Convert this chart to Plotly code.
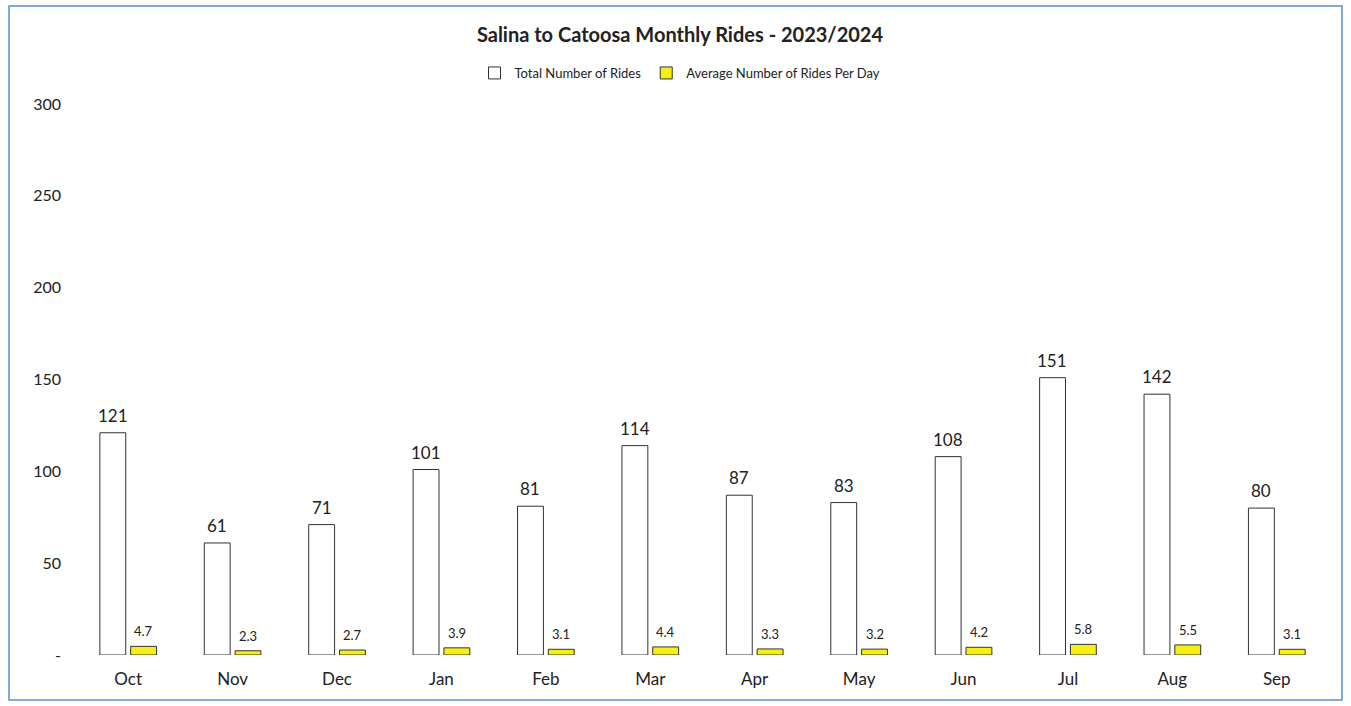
import plotly.graph_objects as go

months = ["Oct", "Nov", "Dec", "Jan", "Feb", "Mar", "Apr", "May", "Jun", "Jul", "Aug", "Sep"]
total_rides = [121, 61, 71, 101, 81, 114, 87, 83, 108, 151, 142, 80]
avg_rides_per_day = [4.7, 2.3, 2.7, 3.9, 3.1, 4.4, 3.3, 3.2, 4.2, 5.8, 5.5, 3.1]
y_ticks = [0, 50, 100, 150, 200, 250, 300]
y_tick_text = ["-", "50", "100", "150", "200", "250", "300"]

W, H = 1351, 706
L, R, T, B = 76, 22, 104, 51
FONT = "Lato, Open Sans, sans-serif"
BAR_OFFSET = 15.5  # px from category centre to each bar's centre

fig = go.Figure()
fig.add_trace(go.Bar(
    name="Total Number of Rides",
    x=months, y=total_rides,
    marker=dict(color="white", line=dict(color="#333333", width=1)),
))
fig.add_trace(go.Bar(
    name="Average Number of Rides Per Day",
    x=months, y=avg_rides_per_day,
    marker=dict(color="#f5ef16", line=dict(color="#333333", width=1)),
))

# value labels above each bar
annotations = []
for m, v in zip(months, total_rides):
    annotations.append(dict(
        x=m, y=v, xref="x", yref="y", text=str(v), showarrow=False,
        xshift=-BAR_OFFSET, yshift=5, yanchor="bottom",
        font=dict(size=17, color="#222222", family=FONT),
    ))
for m, v in zip(months, avg_rides_per_day):
    annotations.append(dict(
        x=m, y=v, xref="x", yref="y", text=f"{v:.1f}", showarrow=False,
        xshift=BAR_OFFSET, yshift=5, yanchor="bottom",
        font=dict(size=13, color="#222222", family=FONT),
    ))

pw = W - L - R
ph = H - T - B

def px_x(x):
    return (x - L) / pw

def px_y(y):
    return (H - B - y) / ph

fig.update_layout(
    width=W, height=H,
    margin=dict(l=L, r=R, t=T, b=B),
    paper_bgcolor="white", plot_bgcolor="white",
    font=dict(family=FONT, color="#222222"),
    barmode="group", bargap=0.41, bargroupgap=0.16,
    title=dict(
        text="<b>Salina to Catoosa Monthly Rides - 2023/2024</b>",
        x=px_x(680), xref="paper", xanchor="center",
        y=1 - 35 / H, yanchor="middle",
        font=dict(size=20, color="#222222", family=FONT),
    ),
    legend=dict(
        orientation="h", x=px_x(680), xanchor="center",
        y=px_y(73), yanchor="middle",
        font=dict(size=13, color="#222222", family=FONT),
        itemwidth=30, bgcolor="rgba(0,0,0,0)",
    ),
    showlegend=True,
    annotations=annotations,
    xaxis=dict(
        showgrid=False, showline=False, zeroline=False, ticks="",
        tickfont=dict(size=17, color="#222222"),
        ticklabelstandoff=12,
    ),
    yaxis=dict(
        range=[0, 300], tickvals=y_ticks, ticktext=y_tick_text,
        showgrid=False, showline=False, zeroline=False, ticks="",
        tickfont=dict(size=16, color="#222222"),
        ticklabelstandoff=14,
    ),
    shapes=[dict(
        type="rect", xref="paper", yref="paper",
        x0=px_x(9), x1=px_x(1342), y0=px_y(700), y1=px_y(6),
        line=dict(color="#5b8fd0", width=1.5), fillcolor="rgba(0,0,0,0)",
        layer="below",
    )],
)

fig.write_html("out.html")
